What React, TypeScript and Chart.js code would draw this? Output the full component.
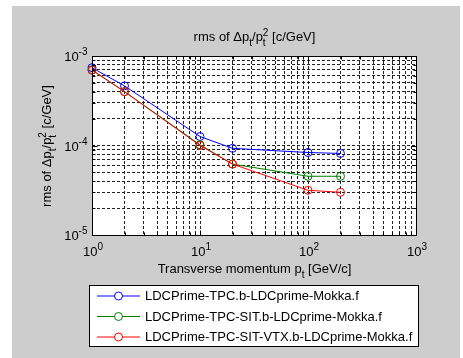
import React, { useEffect, useRef } from 'react';
import { Chart, registerables } from 'chart.js';

Chart.register(...registerables);

// ---- data ----
const pt = [1, 2, 10, 20, 100, 200];
const tpc = [7.4e-4, 4.64e-4, 1.26e-4, 9.3e-5, 8.35e-5, 8.15e-5];
const tpcSit = [7.0e-4, 4.0e-4, 1.02e-4, 6.2e-5, 4.53e-5, 4.53e-5];
const tpcSitVtx = [6.95e-4, 4.0e-4, 1.0e-4, 6.2e-5, 3.16e-5, 3.0e-5];

const seriesNames = [
  'LDCPrime-TPC.b-LDCprime-Mokka.f',
  'LDCPrime-TPC-SIT.b-LDCprime-Mokka.f',
  'LDCPrime-TPC-SIT-VTX.b-LDCprime-Mokka.f',
];
const seriesColors = ['#0000ff', '#008000', '#ff0000'];

const xTickValues = [1, 10, 100, 1000];
const xTickExponents = ['0', '1', '2', '3'];
const yTickValues = [1e-5, 1e-4, 1e-3];
const yTickExponents = ['-5', '-4', '-3'];

const xMin = 1, xMax = 1000, yMin = 1e-5, yMax = 1e-3;

const FONT = '"Liberation Sans", Arial, Helvetica, sans-serif';
const GRAY = '#cdcdcd';
const BASE = 13;
const SMALL = 10;

type Part = { t: string; sub?: string; sup?: string };

const titleParts: Part[] = [
  { t: 'rms of \u0394p', sub: 't' },
  { t: '/p', sub: 't', sup: '2' },
  { t: ' [c/GeV]' },
];
const xLabelParts: Part[] = [{ t: 'Transverse momentum p', sub: 't' }, { t: ' [GeV/c]' }];
const yLabelParts: Part[] = titleParts;

function gridValues(min: number, max: number): number[] {
  const out: number[] = [];
  const e0 = Math.floor(Math.log10(min));
  const e1 = Math.ceil(Math.log10(max));
  for (let e = e0; e <= e1; e++) {
    for (let m = 1; m <= 9; m++) {
      const v = Number((m * Math.pow(10, e)).toPrecision(6));
      if (v >= min * 0.9999 && v <= max * 1.0001) out.push(v);
    }
  }
  return out;
}

function richWidth(ctx: CanvasRenderingContext2D, parts: Part[]) {
  let w = 0;
  for (const p of parts) {
    ctx.font = `${BASE}px ${FONT}`;
    w += ctx.measureText(p.t).width;
    ctx.font = `${SMALL}px ${FONT}`;
    const a = p.sub ? ctx.measureText(p.sub).width : 0;
    const b = p.sup ? ctx.measureText(p.sup).width : 0;
    w += Math.max(a, b);
  }
  return w;
}

function drawRich(
  ctx: CanvasRenderingContext2D,
  parts: Part[],
  x: number,
  y: number,
  align: 'left' | 'center' | 'right',
  subDy = 5,
  supDy = 5
) {
  const w = richWidth(ctx, parts);
  let cx = align === 'center' ? x - w / 2 : align === 'right' ? x - w : x;
  ctx.textAlign = 'left';
  ctx.textBaseline = 'alphabetic';
  ctx.fillStyle = '#000';
  for (const p of parts) {
    ctx.font = `${BASE}px ${FONT}`;
    if (p.t) {
      ctx.fillText(p.t, cx, y);
      cx += ctx.measureText(p.t).width;
    }
    ctx.font = `${SMALL}px ${FONT}`;
    let adv = 0;
    if (p.sub) {
      ctx.fillText(p.sub, cx, y + subDy);
      adv = Math.max(adv, ctx.measureText(p.sub).width);
    }
    if (p.sup) {
      ctx.fillText(p.sup, cx, y - supDy);
      adv = Math.max(adv, ctx.measureText(p.sup).width);
    }
    cx += adv;
  }
}

const decoPlugin = {
  id: 'deco',
  beforeDraw(chart: any) {
    const ctx: CanvasRenderingContext2D = chart.ctx;
    const { left, top, right, bottom } = chart.chartArea;
    ctx.save();
    ctx.fillStyle = '#ffffff';
    ctx.fillRect(0, 0, chart.width, chart.height);
    ctx.fillStyle = GRAY;
    ctx.fillRect(12, 6, 448, 352);
    ctx.fillStyle = '#ffffff';
    ctx.fillRect(left, top, right - left, bottom - top);
    ctx.restore();
  },
  afterDraw(chart: any) {
    const ctx: CanvasRenderingContext2D = chart.ctx;
    const { left, top, right, bottom } = chart.chartArea;
    const xs = chart.scales.x;
    const ys = chart.scales.y;
    ctx.save();

    const L = Math.round(left) + 0.5;
    const R = Math.round(right) + 0.5;
    const T = Math.round(top) + 0.5;
    const B = Math.round(bottom) + 0.5;

    // tick marks (inside)
    ctx.strokeStyle = '#000';
    ctx.lineWidth = 1;
    ctx.setLineDash([]);
    ctx.beginPath();
    for (const v of gridValues(xMin, xMax)) {
      const px = Math.round(xs.getPixelForValue(v)) + 0.5;
      const len = xTickValues.includes(v) ? 5 : 3;
      ctx.moveTo(px, B);
      ctx.lineTo(px, B - len);
      ctx.moveTo(px, T);
      ctx.lineTo(px, T + len);
    }
    for (const v of gridValues(yMin, yMax)) {
      const py = Math.round(ys.getPixelForValue(v)) + 0.5;
      const len = yTickValues.includes(v) ? 5 : 3;
      ctx.moveTo(L, py);
      ctx.lineTo(L + len, py);
      ctx.moveTo(R, py);
      ctx.lineTo(R - len, py);
    }
    ctx.stroke();

    // box
    ctx.strokeRect(L, T, R - L, B - T);

    // x tick labels
    xTickValues.forEach((v, i) => {
      const px = xs.getPixelForValue(v);
      drawRich(ctx, [{ t: '10', sup: xTickExponents[i] }], px + 1, B + 20, 'center', 5, 6);
    });
    // y tick labels
    yTickValues.forEach((v, i) => {
      const py = ys.getPixelForValue(v);
      drawRich(ctx, [{ t: '10', sup: yTickExponents[i] }], L - 5, py + 5, 'right', 5, 6);
    });

    // title
    drawRich(ctx, titleParts, (L + R) / 2, 41, 'center', 5, 5);
    // x label
    drawRich(ctx, xLabelParts, (L + R) / 2, 273, 'center', 5, 5);
    // y label
    ctx.save();
    ctx.translate(50.5, (T + B) / 2);
    ctx.rotate(-Math.PI / 2);
    drawRich(ctx, yLabelParts, 0, 0, 'center', 5, 5);
    ctx.restore();

    // legend
    const bx = 89.5, by = 285.5, bw = 329, bh = 61;
    ctx.fillStyle = '#ffffff';
    ctx.fillRect(bx, by, bw, bh);
    ctx.strokeStyle = '#000';
    ctx.lineWidth = 1;
    ctx.strokeRect(bx, by, bw, bh);
    seriesNames.forEach((name, i) => {
      const ry = 296 + i * 20.5;
      ctx.strokeStyle = seriesColors[i];
      ctx.lineWidth = 1;
      ctx.beginPath();
      ctx.moveTo(97, ry);
      ctx.lineTo(140, ry);
      ctx.stroke();
      ctx.beginPath();
      ctx.arc(118.5, ry, 4, 0, Math.PI * 2);
      ctx.fillStyle = '#ffffff';
      ctx.fill();
      ctx.stroke();
      ctx.fillStyle = '#000';
      ctx.font = `${BASE}px ${FONT}`;
      ctx.textAlign = 'left';
      ctx.textBaseline = 'middle';
      ctx.fillText(name, 145, ry + 0.5);
    });

    ctx.restore();
  },
};

const allSeries = [tpc, tpcSit, tpcSitVtx];

export default function App() {
  const ref = useRef<HTMLCanvasElement>(null);
  useEffect(() => {
    if (!ref.current) return;
    const chart = new Chart(ref.current, {
      type: 'line',
      data: {
        datasets: allSeries.map((vals, i) => ({
          label: seriesNames[i],
          data: pt.map((x, j) => ({ x, y: vals[j] })),
          borderColor: seriesColors[i],
          backgroundColor: 'rgba(0,0,0,0)',
          borderWidth: 1,
          pointRadius: 4,
          pointBorderWidth: 1,
          pointStyle: 'circle',
          pointBackgroundColor: 'rgba(0,0,0,0)',
          pointBorderColor: seriesColors[i],
          tension: 0,
          fill: false,
          clip: false as any,
          order: 2 - i,
        })),
      },
      options: {
        responsive: false,
        devicePixelRatio: 1,
        animation: false,
        events: [],
        layout: { padding: { left: 92, top: 56, right: 47, bottom: 123 } },
        plugins: { legend: { display: false }, tooltip: { enabled: false }, title: { display: false } },
        scales: {
          x: {
            type: 'logarithmic',
            min: xMin,
            max: xMax,
            afterBuildTicks: (axis: any) => {
              axis.ticks = gridValues(xMin, xMax).map((v) => ({ value: v }));
            },
            afterFit: (axis: any) => {
              axis.height = 0;
            },
            ticks: { display: false, autoSkip: false },
            grid: { color: '#222', lineWidth: 1, drawTicks: false },
            border: { display: false, dash: [3, 2] },
          },
          y: {
            type: 'logarithmic',
            min: yMin,
            max: yMax,
            afterBuildTicks: (axis: any) => {
              axis.ticks = gridValues(yMin, yMax).map((v) => ({ value: v }));
            },
            afterFit: (axis: any) => {
              axis.width = 0;
            },
            ticks: { display: false, autoSkip: false },
            grid: { color: '#222', lineWidth: 1, drawTicks: false },
            border: { display: false, dash: [3, 2] },
          },
        },
      } as any,
      plugins: [decoPlugin],
    });
    return () => chart.destroy();
  }, []);
  return (
    <div style={{ position: 'fixed', left: 0, top: 0, width: 463, height: 358 }}>
      <canvas ref={ref} width={463} height={358} style={{ display: 'block', width: 463, height: 358 }} />
    </div>
  );
}
